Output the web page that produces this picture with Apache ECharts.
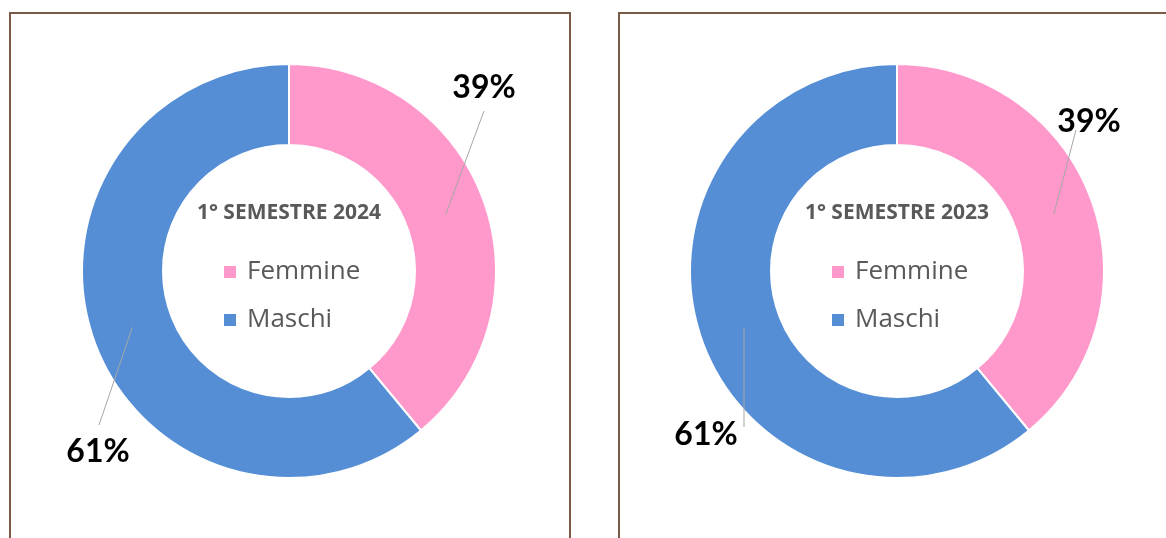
<!DOCTYPE html>
<html>
<head>
<meta charset="utf-8">
<script src="https://cdn.jsdelivr.net/npm/echarts@6/dist/echarts.min.js"></script>
<style>
  html, body { margin: 0; padding: 0; background: #fff; overflow: hidden; }
  .panel { position: absolute; top: 12px; height: 600px; border: 2px solid #7b5b47; box-sizing: border-box; }
  #chart { position: absolute; left: 0; top: 0; width: 1166px; height: 538px; }
</style>
</head>
<body>
<div class="panel" style="left:9px; width:562px"></div>
<div class="panel" style="left:618px; width:620px"></div>
<div id="chart"></div>
<script>
(function () {
  const chart = echarts.init(document.getElementById("chart"));

  // ── Data ───────────────────────────────────────────────────────────────────
  const categories = ["Femmine", "Maschi"];
  const periods = ["1° SEMESTRE 2024", "1° SEMESTRE 2023"];
  const shares2024 = [39, 61];
  const shares2023 = [39, 61];

  const colors = ["#FF99CC", "#558ED5"];
  const FONT = "'Open Sans', sans-serif";
  const LABEL_FONT = "Lato, 'Open Sans', sans-serif";

  // panel layout (pixels)
  const centers = [[289, 271], [897, 271]];
  const innerR = 126, outerR = 207;
  // label centre and leader-line end for each slice, per panel
  const labelPos = [
    [{ at: [484, 88], end: [484, 111] }, { at: [98, 452], end: [99, 425] }],
    [{ at: [1089, 122], end: [1076, 130] }, { at: [706, 435], end: [744, 427] }],
  ];

  const allShares = [shares2024, shares2023];

  /** point on the middle of the ring at the slice's mid angle */
  function ringMid(s, i) {
    const vals = allShares[s];
    const total = vals.reduce((a, b) => a + b, 0);
    let before = 0;
    for (let k = 0; k < i; k++) before += vals[k];
    const frac = (before + vals[i] / 2) / total;
    const ang = frac * Math.PI * 2; // clockwise from 12 o'clock
    const r = (innerR + outerR) / 2;
    const c = centers[s];
    return [c[0] + r * Math.sin(ang), c[1] - r * Math.cos(ang)];
  }

  function toData(values, transparent) {
    return categories.map((name, i) => ({
      name: name,
      value: values[i],
      itemStyle: { color: transparent ? "rgba(0,0,0,0)" : colors[i] },
    }));
  }

  // the ring itself
  function ringSeries(s, values) {
    return {
      type: "pie",
      name: periods[s],
      z: 2,
      center: centers[s],
      radius: [innerR, outerR],
      startAngle: 90,
      clockwise: true,
      silent: true,
      itemStyle: { borderColor: "#fff", borderWidth: 2 },
      label: { show: false },
      labelLine: { show: false },
      data: toData(values, false),
    };
  }

  // invisible copy on top, carrying the percentage labels and leader lines
  function labelSeries(s, values) {
    return {
      type: "pie",
      name: periods[s] + " labels",
      z: 5,
      center: centers[s],
      radius: [innerR, outerR],
      startAngle: 90,
      clockwise: true,
      silent: true,
      avoidLabelOverlap: false,
      legendHoverLink: false,
      itemStyle: { borderWidth: 0 },
      label: {
        show: true,
        position: "outside",
        formatter: "{c}%",
        fontFamily: LABEL_FONT,
        fontSize: 32,
        fontWeight: "bold",
        color: "#000",
      },
      labelLine: { show: true, lineStyle: { color: "#a6a6a6", width: 1 } },
      labelLayout: function (p) {
        const lp = labelPos[s][p.dataIndex];
        const start = ringMid(s, p.dataIndex);
        // keep a vertical leader vertical
        if (Math.abs(start[0] - lp.end[0]) < 6) start[0] = lp.end[0];
        return {
          x: lp.at[0],
          y: lp.at[1],
          align: "center",
          verticalAlign: "middle",
          labelLinePoints: [start, lp.end, lp.end],
        };
      },
      data: toData(values, true),
    };
  }

  const option = {
    animation: false,
    title: periods.map((t, s) => ({
      text: t,
      left: centers[s][0],
      top: 203,
      textAlign: "center",
      padding: 0,
      textStyle: { fontFamily: FONT, fontSize: 21, fontWeight: "bold", color: "#595959" },
    })),
    legend: centers.map((c) => ({
      data: categories,
      orient: "vertical",
      left: c[0] - 67,
      top: 259,
      padding: 0,
      itemWidth: 14,
      itemHeight: 14,
      itemGap: 22,
      icon: "rect",
      selectedMode: false,
      textStyle: { fontFamily: FONT, fontSize: 26, lineHeight: 26, color: "#595959", padding: [0, 0, 0, 5] },
    })),
    series: [
      ringSeries(0, shares2024),
      ringSeries(1, shares2023),
      labelSeries(0, shares2024),
      labelSeries(1, shares2023),
    ],
  };

  chart.setOption(option);
})();
</script>
</body>
</html>
